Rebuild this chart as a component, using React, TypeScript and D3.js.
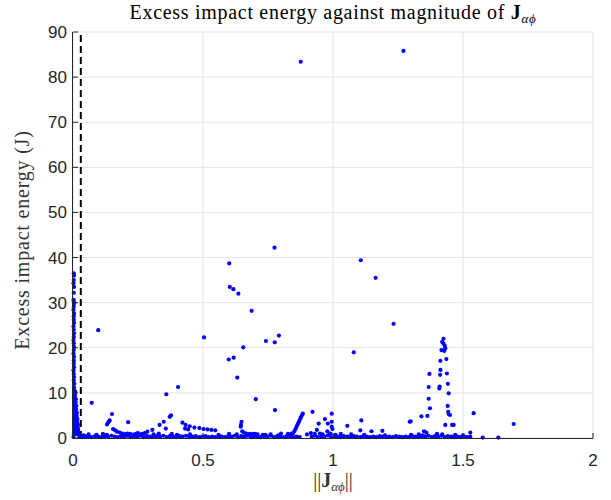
import React from "react";
import * as d3 from "d3";

// points stacked on the y axis (x close to 0)
const columnPts: [number, number][] = [
  [0.003, 36.5], [0.004, 36.0], [0.003, 35.0], [0.002, 34.3], [0.004, 33.5], [0.003, 32.2],
  [0.002, 30.6], [0.003, 30.2], [0.004, 29.8], [0.003, 29.1], [0.002, 28.4], [0.004, 27.6],
  [0.003, 27.0], [0.003, 26.2], [0.004, 25.5], [0.002, 24.7], [0.003, 24.0], [0.004, 23.2],
  [0.003, 22.4], [0.002, 21.7], [0.003, 21.0], [0.004, 20.2], [0.003, 19.5], [0.002, 18.7],
  [0.004, 18.0], [0.003, 17.2], [0.003, 16.5], [0.004, 15.7], [0.002, 15.0], [0.003, 14.2],
  [0.004, 13.5], [0.003, 12.8], [0.005, 12.0], [0.004, 11.2], [0.006, 10.5], [0.005, 10.0],
  [0.004, 9.3], [0.006, 8.7], [0.005, 8.0], [0.004, 7.3], [0.006, 6.7], [0.005, 6.0],
  [0.004, 5.3], [0.006, 4.6], [0.005, 4.0], [0.004, 3.3], [0.006, 2.6], [0.005, 2.0],
  [0.004, 1.3], [0.003, 0.7], [0.002, 0.2],
];

// small spread at the foot of the column
const flarePts: [number, number][] = [
  [0.009, 10.2], [0.008, 9.4], [0.011, 8.6], [0.010, 7.9], [0.013, 7.1], [0.012, 6.4],
  [0.015, 5.6], [0.014, 4.9], [0.017, 4.2], [0.016, 3.6], [0.019, 3.0], [0.018, 2.4],
  [0.020, 1.8], [0.019, 1.2], [0.021, 0.7], [0.010, 3.0], [0.012, 1.6], [0.008, 5.2], [0.014, 0.9],
];

// the dense band just above zero
const floorPts: [number, number][] = [
  [0.025, 0.3], [0.035, 0.2], [0.048, 0.4], [0.06, 0.3], [0.072, 0.2], [0.085, 0.4], [0.097, 0.3],
  [0.11, 0.2], [0.122, 0.4], [0.135, 0.3], [0.148, 0.5], [0.16, 0.3], [0.172, 0.2], [0.185, 0.4],
  [0.197, 0.3], [0.21, 0.5], [0.222, 0.2], [0.235, 0.4], [0.247, 0.3], [0.26, 0.5], [0.272, 0.2],
  [0.285, 0.4], [0.297, 0.3], [0.31, 0.2], [0.322, 0.4], [0.335, 0.3], [0.347, 0.5], [0.36, 0.2],
  [0.372, 0.4], [0.385, 0.3], [0.397, 0.2], [0.41, 0.4], [0.422, 0.3], [0.435, 0.5], [0.447, 0.2],
  [0.46, 0.3], [0.472, 0.4], [0.485, 0.2], [0.497, 0.3], [0.51, 0.4], [0.522, 0.2], [0.535, 0.3],
  [0.547, 0.2], [0.56, 0.4], [0.572, 0.3], [0.585, 0.2], [0.597, 0.4], [0.61, 0.3], [0.622, 0.5],
  [0.635, 0.2], [0.647, 0.4], [0.66, 0.3], [0.672, 0.5], [0.685, 0.2], [0.697, 0.4], [0.71, 0.3],
  [0.722, 0.2], [0.735, 0.4], [0.747, 0.3], [0.76, 0.5], [0.772, 0.2], [0.785, 0.4], [0.797, 0.3],
  [0.81, 0.2], [0.822, 0.4], [0.835, 0.3], [0.847, 0.2], [0.86, 0.3], [0.872, 0.2], [0.918, 0.3],
  [0.93, 0.5], [0.942, 0.2], [0.955, 0.4], [0.967, 0.3], [0.98, 0.6], [0.992, 0.2], [1.005, 0.4],
  [1.017, 0.3], [1.03, 0.2], [1.042, 0.4], [1.055, 0.3], [1.067, 0.2], [1.08, 0.4], [1.092, 0.3],
  [1.105, 0.2], [1.117, 0.4], [1.13, 0.3], [1.142, 0.2], [1.155, 0.3], [1.167, 0.2], [1.18, 0.4],
  [1.192, 0.3], [1.205, 0.2], [1.217, 0.3], [1.23, 0.2], [1.242, 0.4], [1.255, 0.3], [1.267, 0.2],
  [1.28, 0.3], [1.292, 0.2], [1.305, 0.4], [1.317, 0.3], [1.33, 0.2], [1.342, 0.4], [1.355, 0.3],
  [1.367, 0.5], [1.38, 0.2], [1.392, 0.4], [1.405, 0.3], [1.417, 0.5], [1.43, 0.2], [1.442, 0.4],
  [1.455, 0.3], [1.467, 0.2], [1.48, 0.3], [1.492, 0.2], [1.505, 0.3], [1.517, 0.2], [1.528, 0.3],
];

// low points just above the band
const lowPts: [number, number][] = [
  [0.04, 0.6], [0.06, 0.8], [0.09, 0.7], [0.115, 0.9], [0.13, 0.7], [0.21, 1.0], [0.235, 0.8],
  [0.25, 1.1], [0.265, 0.9], [0.31, 0.8], [0.33, 1.0], [0.38, 0.9], [0.40, 0.7], [0.45, 0.8],
  [0.56, 0.7], [0.60, 0.9], [0.63, 0.8], [0.70, 0.9], [0.73, 0.7], [0.76, 0.8], [0.79, 0.6],
  [0.80, 1.0], [0.827, 0.9], [0.84, 1.0], [0.90, 0.8], [0.915, 1.1], [0.93, 0.9], [0.95, 1.0],
  [0.96, 0.8], [0.99, 1.0], [1.01, 0.7], [1.03, 0.9], [1.07, 0.8], [1.12, 0.7], [1.2, 0.6],
  [1.3, 0.7], [1.33, 0.8], [1.345, 0.6], [1.40, 0.9], [1.42, 0.8], [1.47, 0.7], [1.50, 0.6],
];

// curved trails between 0.13 and 0.9
const trailPts: [number, number][] = [
  [0.150, 5.3], [0.141, 3.9], [0.136, 3.5], [0.131, 3.0], [0.154, 2.0], [0.162, 1.7], [0.169, 1.4],
  [0.180, 1.2], [0.192, 1.0], [0.205, 0.9], [0.212, 3.5],
  [0.305, 1.8], [0.286, 1.4], [0.276, 1.1], [0.22, 0.9], [0.245, 1.0],
  [0.372, 4.7], [0.377, 5.0], [0.349, 3.6], [0.333, 2.9], [0.357, 2.1],
  [0.421, 3.4], [0.433, 2.9], [0.449, 2.6], [0.467, 2.3], [0.486, 2.2], [0.502, 2.0], [0.517, 1.9],
  [0.532, 1.8], [0.547, 1.7], [0.431, 2.1], [0.443, 1.9],
  [0.648, 3.6], [0.646, 2.9], [0.645, 2.5], [0.651, 1.5], [0.657, 1.2], [0.667, 1.0], [0.680, 0.9],
  [0.692, 0.9], [0.71, 0.8], [0.74, 0.7],
  [0.846, 1.0], [0.851, 1.5], [0.856, 2.0], [0.860, 2.5], [0.864, 3.0], [0.868, 3.5], [0.872, 4.0],
  [0.876, 4.5], [0.880, 5.0], [0.884, 5.4],
];

// isolated points
const scatterPts: [number, number][] = [
  [0.072, 7.8], [0.097, 23.9], [0.359, 9.7], [0.404, 11.3], [0.504, 22.3], [0.599, 17.4],
  [0.618, 17.8], [0.601, 38.7], [0.603, 33.5], [0.617, 33.0], [0.636, 32.0], [0.632, 13.4],
  [0.655, 20.1], [0.687, 28.2], [0.703, 8.6], [0.742, 21.5], [0.775, 42.2], [0.776, 21.2],
  [0.792, 22.7], [0.777, 6.2], [0.876, 83.4], [0.921, 5.8], [0.995, 5.4], [0.969, 4.2],
  [0.945, 3.2], [0.980, 3.2], [0.995, 3.6], [0.995, 2.5], [0.998, 2.0], [0.938, 1.8], [0.978, 1.5],
  [1.055, 2.7], [1.080, 19.0], [1.107, 39.4], [1.109, 3.9], [1.105, 1.7], [1.148, 1.5],
  [1.164, 35.5], [1.190, 1.6], [1.233, 25.3], [1.271, 85.8], [1.295, 3.6], [1.299, 3.7],
  [1.340, 4.8], [1.363, 4.9], [1.350, 1.5], [1.359, 1.2], [1.541, 5.5], [1.528, 1.2],
  [1.576, 0.1], [1.636, 0.1], [1.695, 3.1],
];

// the spike around 1.42
const peakPts: [number, number][] = [
  [1.425, 22.0], [1.420, 21.3], [1.425, 20.9], [1.430, 20.4], [1.432, 19.9], [1.417, 19.5],
  [1.428, 19.3], [1.436, 17.5], [1.413, 17.1], [1.413, 15.1], [1.412, 14.0], [1.438, 14.3],
  [1.371, 14.2], [1.368, 11.3], [1.410, 11.4], [1.409, 11.0], [1.442, 12.0], [1.445, 9.9],
  [1.368, 8.7], [1.373, 6.6], [1.441, 7.1], [1.443, 5.8], [1.445, 5.3], [1.450, 5.1],
  [1.432, 2.9], [1.458, 2.9], [1.464, 2.9],
];

const xTicks = [0, 0.5, 1, 1.5, 2];
const xTickLabels = ["0", "0.5", "1", "1.5", "2"];
const yTicks = [0, 10, 20, 30, 40, 50, 60, 70, 80, 90];
const thresholdX = 0.03;

const W = 611;
const H = 500;
const margin = { left: 73, top: 32, right: 18, bottom: 62 };
const serif = "Liberation Serif, serif";
const sans = "Liberation Sans, Arial, sans-serif";

export default function App() {
  const x = d3.scaleLinear().domain([0, 2]).range([margin.left, W - margin.right]);
  const y = d3.scaleLinear().domain([0, 90]).range([H - margin.bottom, margin.top]);
  const allPts = [...floorPts, ...lowPts, ...trailPts, ...columnPts, ...flarePts, ...scatterPts, ...peakPts];
  const axisCol = "#262626";
  const gridCol = "#e3e3e3";
  const [x0, x1] = x.range();
  const [y0, y1] = y.range();

  return (
    <svg width={W} height={H} style={{ position: "absolute", left: 0, top: 0, background: "#fff" }}>
      <rect x={0} y={0} width={W} height={H} fill="#fff" />
      {/* grid */}
      {xTicks.map((t) => (
        <line key={"gx" + t} x1={x(t)} x2={x(t)} y1={y0} y2={y1} stroke={gridCol} strokeWidth={1} />
      ))}
      {yTicks.map((t) => (
        <line key={"gy" + t} x1={x0} x2={x1} y1={y(t)} y2={y(t)} stroke={gridCol} strokeWidth={1} />
      ))}
      {/* threshold */}
      <line x1={x(thresholdX)} x2={x(thresholdX)} y1={y(0)} y2={y(90)} stroke="#000" strokeWidth={2} strokeDasharray="7,4" />
      {/* points */}
      {allPts.map((d, i) => (
        <circle key={i} cx={x(d[0])} cy={y(d[1])} r={2.1} fill="#0000ff" />
      ))}
      {/* axes */}
      <line x1={x0} x2={x1} y1={y0 + 0.5} y2={y0 + 0.5} stroke={axisCol} strokeWidth={1} />
      <line x1={x0 - 0.5} x2={x0 - 0.5} y1={y0} y2={y1} stroke={axisCol} strokeWidth={1} />
      {xTicks.map((t, i) => (
        <g key={"tx" + t}>
          <line x1={x(t)} x2={x(t)} y1={y0} y2={y0 - 5} stroke={axisCol} />
          <text x={x(t)} y={y0 + 28} textAnchor="middle" fontFamily={sans} fontSize={17} fill={axisCol}>
            {xTickLabels[i]}
          </text>
        </g>
      ))}
      {yTicks.map((t) => (
        <g key={"ty" + t}>
          <line x1={x0} x2={x0 + 5} y1={y(t)} y2={y(t)} stroke={axisCol} />
          <text x={x0 - 6} y={y(t) + 6} textAnchor="end" fontFamily={sans} fontSize={17} fill={axisCol}>
            {t}
          </text>
        </g>
      ))}
      {/* title */}
      <text x={(x0 + x1) / 2} y={19} textAnchor="middle" fontFamily={serif} fontSize={20} letterSpacing={0.7} fill="#000">
        Excess impact energy against magnitude of{" "}
        <tspan fontWeight="bold">J</tspan>
        <tspan fontStyle="italic" fontSize={13} dy={4}>αϕ</tspan>
      </text>
      {/* x label */}
      <text x={(x0 + x1) / 2} y={487} textAnchor="middle" fontFamily={serif} fontSize={20} fill="#333">
        ||<tspan fontWeight="bold">J</tspan>
        <tspan fontStyle="italic" fontSize={13} dy={4}>αϕ</tspan>
        <tspan dy={-4}>||</tspan>
      </text>
      {/* y label */}
      <text
        transform={`translate(29,${(y0 + y1) / 2 + 5}) rotate(-90)`}
        textAnchor="middle"
        fontFamily={serif}
        fontSize={20}
        letterSpacing={0.8}
        fill="#333"
      >
        Excess impact energy (J)
      </text>
    </svg>
  );
}
